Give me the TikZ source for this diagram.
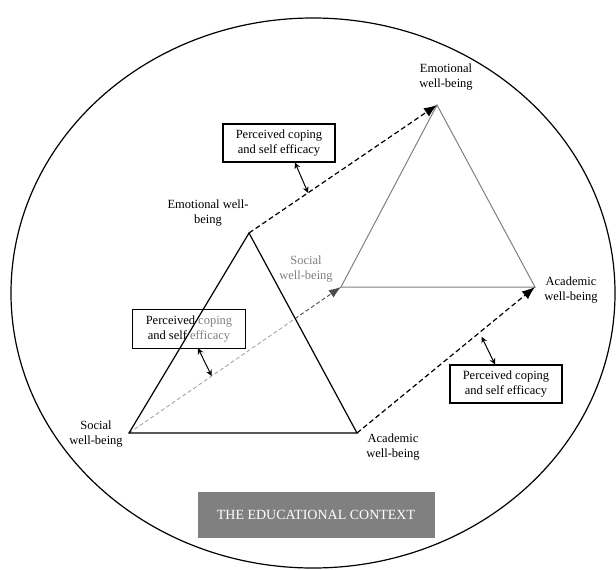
\documentclass[tikz,border=0pt]{standalone}
\usepackage{fontspec}
\setmainfont{Liberation Serif}
\usetikzlibrary{arrows.meta,calc}

\begin{document}
\begin{tikzpicture}[x=1pt,y=-1pt,
		lbl/.style={align=center,inner sep=0pt,font=\fontsize{12.5}{15.5}\selectfont},
		box/.style={rectangle,align=center,minimum width=112pt,minimum height=38pt,font=\fontsize{12.5}{15.5}\selectfont},
		dasharrow/.style={line width=1.2pt,dash pattern=on 5pt off 3pt,-{Latex[length=13pt,width=10pt]}},
		dblarrow/.style={line width=1pt,{Stealth[length=6pt,width=6pt]}-{Stealth[length=6pt,width=6pt]}},
		]
		\useasboundingbox (0,0) rectangle (616,570);
		\draw[line width=1.2pt] (313,293) ellipse [x radius=302pt, y radius=275pt];

		% corners of the two triangles
		\coordinate (E2) at (437,105);
		\coordinate (S2) at (341,287);
		\coordinate (A2) at (535,287);
		\coordinate (E1) at (249,233);
		\coordinate (S1) at (129,433);
		\coordinate (A1) at (357,433);

		\draw[gray,line width=1pt] (S2) -- (E2) -- (A2) -- cycle;
		\draw[gray!60!black,line width=0.9pt,dash pattern=on 4pt off 2.5pt,-{Latex[length=12pt,width=9pt]}] (S1) -- (S2);

		\node[box] (P2) at (189,329) {Perceived coping\\and self efficacy};
		\draw[line width=1.2pt,fill=white,fill opacity=0.5] (S1) -- (E1) -- (A1) -- cycle;
		\draw[line width=1.2pt] (P2.south west) rectangle (P2.north east);

		\draw[dasharrow] (E1) -- (E2);
		\draw[dasharrow] (A1) -- (A2);

		\node[box,draw,line width=1.2pt] (P1) at (279,143) {Perceived coping\\and self efficacy};
		\node[box,draw,line width=1.2pt] (P3) at (506,384) {Perceived coping\\and self efficacy};

		\draw[dblarrow] ($(P1.south)+(16,0)$) -- ($(E1)!0.314!(E2)$);
		\draw[dblarrow] ($(P2.south)+(9,0)$) -- ($(S1)!0.39!(S2)$);
		\draw[dblarrow] ($(A1)!0.70!(A2)+(0,6)$) -- ($(P3.north)+(-11,0)$);

		% labels
		\node[lbl] (LE2) at (446,77) {Emotional\\well-being};
		\node[lbl] (LE1) at (208,213) {Emotional well-\\being};
		\node[lbl,text=gray] (LS2) at (306,269) {Social\\well-being};
		\node[lbl] (LS1) at (96,434) {Social\\well-being};
		\node[lbl] (LA1) at (393,447) {Academic\\well-being};
		\node[lbl] (LA2) at (571,290) {Academic\\well-being};

		\node[fill=gray,text=white,minimum width=237pt,minimum height=46pt,font=\fontsize{14}{16}\selectfont] (ctx) at (316,515) {THE EDUCATIONAL CONTEXT};
	\end{tikzpicture}
\end{document}
